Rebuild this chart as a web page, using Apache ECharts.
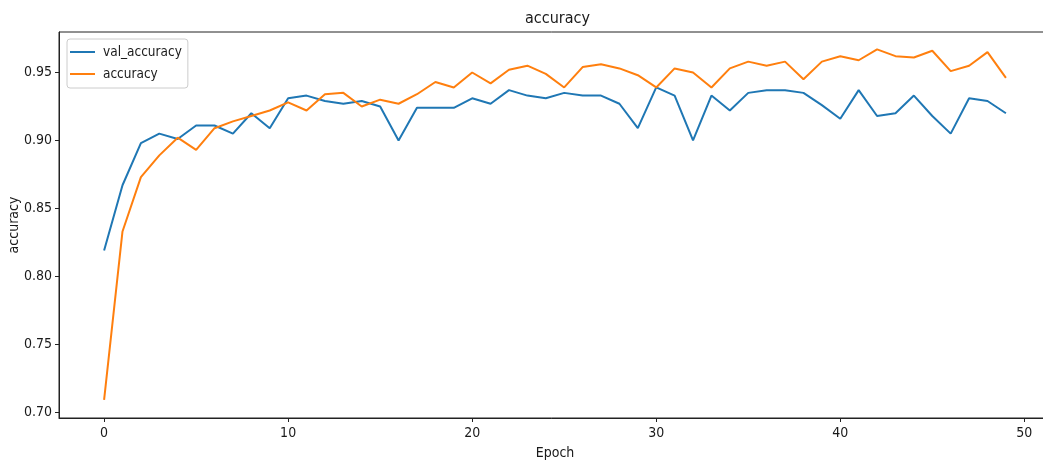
<!DOCTYPE html>
<html>
<head>
<meta charset="utf-8">
<script src="https://cdn.jsdelivr.net/npm/echarts@6/dist/echarts.min.js"></script>
<style>
  html, body { margin: 0; padding: 0; background: #fff; }
  #chart { width: 1043px; height: 465px; }
</style>
</head>
<body>
<div id="chart"></div>
<script>
// Training history per epoch
const epochs = Array.from({ length: 50 }, (_, i) => i);
const valAccuracy = [
  0.819, 0.867, 0.898, 0.905, 0.901, 0.911, 0.911, 0.905, 0.920, 0.909,
  0.931, 0.933, 0.929, 0.927, 0.929, 0.925, 0.900, 0.924, 0.924, 0.924,
  0.931, 0.927, 0.937, 0.933, 0.931, 0.935, 0.933, 0.933, 0.927, 0.909,
  0.939, 0.933, 0.900, 0.933, 0.922, 0.935, 0.937, 0.937, 0.935, 0.926,
  0.916, 0.937, 0.918, 0.920, 0.933, 0.918, 0.905, 0.931, 0.929, 0.920
];
const accuracy = [
  0.709, 0.833, 0.873, 0.889, 0.902, 0.893, 0.909, 0.914, 0.918, 0.922,
  0.928, 0.922, 0.934, 0.935, 0.925, 0.930, 0.927, 0.934, 0.943, 0.939,
  0.950, 0.942, 0.952, 0.955, 0.949, 0.939, 0.954, 0.956, 0.953, 0.948,
  0.939, 0.953, 0.950, 0.939, 0.953, 0.958, 0.955, 0.958, 0.945, 0.958,
  0.962, 0.959, 0.967, 0.962, 0.961, 0.966, 0.951, 0.955, 0.965, 0.946
];
const xTicks = [0, 10, 20, 30, 40, 50];
const yTicks = [0.70, 0.75, 0.80, 0.85, 0.90, 0.95];

const FONT = 'DejaVu Sans Condensed, DejaVu Sans, sans-serif';
const INK = '#1a1a1a';

const chart = echarts.init(document.getElementById('chart'), null, { renderer: 'canvas' });

chart.setOption({
  backgroundColor: '#ffffff',
  animation: false,
  title: {
    text: 'accuracy',
    left: 520,
    top: 6,
    textStyle: { fontFamily: FONT, fontSize: 16, fontWeight: 'normal', color: INK }
  },
  legend: {
    orient: 'vertical',
    left: 67,
    top: 39,
    padding: [6, 6, 7, 3],
    itemGap: 8,
    itemWidth: 25,
    itemHeight: 2,
    icon: 'rect',
    backgroundColor: '#ffffff',
    borderColor: '#cccccc',
    borderWidth: 1,
    borderRadius: 3,
    textStyle: { fontFamily: FONT, fontSize: 13.5, color: INK, padding: [0, 0, 0, 3] },
    data: ['val_accuracy', 'accuracy']
  },
  grid: {
    left: 59,
    right: -8,
    top: 32,
    bottom: 47,
    outerBoundsMode: 'none',
    containLabel: false,
    show: true,
    borderColor: '#222',
    borderWidth: 1,
    backgroundColor: 'transparent'
  },
  xAxis: {
    type: 'value',
    min: -2.45,
    max: 51.45,
    name: 'Epoch',
    nameLocation: 'middle',
    nameGap: 28,
    nameMoveOverlap: false,
    nameTextStyle: { fontFamily: FONT, fontSize: 14, color: INK },
    axisLine: { show: true, onZero: false, lineStyle: { color: '#222', width: 1 } },
    axisTick: { show: true, length: 4, customValues: xTicks, lineStyle: { color: '#222' } },
    axisLabel: {
      customValues: xTicks,
      margin: 8,
      fontFamily: FONT, fontSize: 14, color: INK,
      formatter: v => String(v)
    },
    splitLine: { show: false }
  },
  yAxis: {
    type: 'value',
    min: 0.6957,
    max: 0.9798,
    name: 'accuracy',
    nameLocation: 'middle',
    nameGap: 38,
    nameMoveOverlap: false,
    nameTextStyle: { fontFamily: FONT, fontSize: 14, color: INK },
    axisLine: { show: true, onZero: false, lineStyle: { color: '#222', width: 1 } },
    axisTick: { show: true, length: 4, customValues: yTicks, lineStyle: { color: '#222' } },
    axisLabel: {
      customValues: yTicks,
      margin: 7,
      fontFamily: FONT, fontSize: 14, color: INK,
      formatter: v => v.toFixed(2)
    },
    splitLine: { show: false }
  },
  series: [
    {
      name: 'val_accuracy',
      type: 'line',
      data: epochs.map((e, i) => [e, valAccuracy[i]]),
      showSymbol: false,
      color: '#1f77b4',
      lineStyle: { width: 2, color: '#1f77b4' },
      z: 2
    },
    {
      name: 'accuracy',
      type: 'line',
      data: epochs.map((e, i) => [e, accuracy[i]]),
      showSymbol: false,
      color: '#ff7f0e',
      lineStyle: { width: 2, color: '#ff7f0e' },
      z: 3
    }
  ]
});
</script>
</body>
</html>
